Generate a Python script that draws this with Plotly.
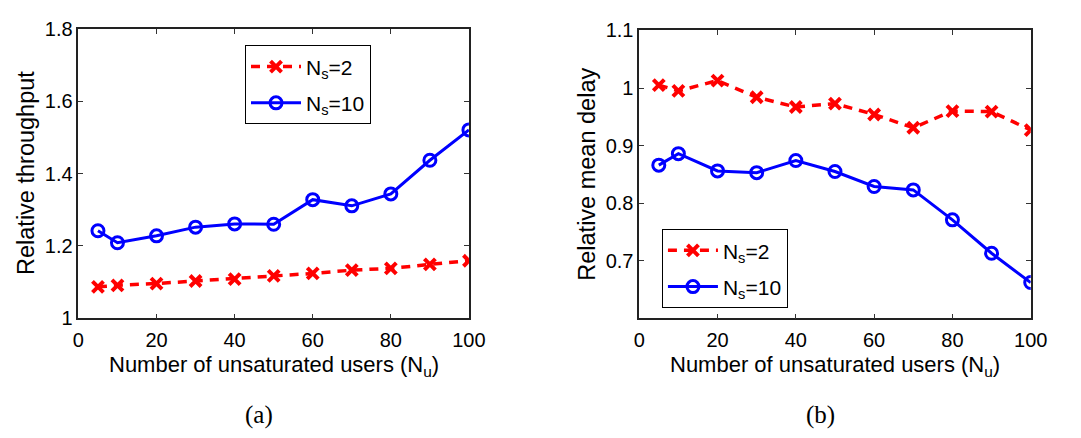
import plotly.graph_objects as go
from plotly.subplots import make_subplots

# Number of unsaturated users
users = [5, 10, 20, 30, 40, 50, 60, 70, 80, 90, 100]

# (a) relative throughput
thr_ns2 = [1.087, 1.091, 1.096, 1.103, 1.108, 1.117, 1.124, 1.133, 1.138, 1.149, 1.159]
thr_ns10 = [1.242, 1.209, 1.228, 1.252, 1.261, 1.260, 1.328, 1.311, 1.344, 1.437, 1.521]

# (b) relative mean delay
dly_ns2 = [1.005, 0.995, 1.013, 0.984, 0.967, 0.973, 0.954, 0.931, 0.960, 0.959, 0.927]
dly_ns10 = [0.866, 0.886, 0.856, 0.853, 0.874, 0.855, 0.829, 0.823, 0.771, 0.713, 0.662]

x_ticks = [0, 20, 40, 60, 80, 100]
thr_ticks = [1, 1.2, 1.4, 1.6, 1.8]
dly_ticks = [0.7, 0.8, 0.9, 1, 1.1]

W, H = 1081, 438
FONT = "Liberation Sans, Arial, Helvetica, sans-serif"
RED = "#ff0000"
BLUE = "#0000ff"

fig = make_subplots(rows=1, cols=2)


def add_pair(y2, y10, col, legend):
    fig.add_trace(go.Scatter(
        x=users, y=y2, mode="lines+markers", name="N<sub>s</sub>=2",
        line=dict(color=RED, width=3.5, dash="9px,7px"),
        marker=dict(symbol="x-thin", size=11, line=dict(color=RED, width=4)),
        legend=legend, legendgroup=legend + "a",
    ), row=1, col=col)
    fig.add_trace(go.Scatter(
        x=users, y=y10, mode="lines+markers", name="N<sub>s</sub>=10",
        line=dict(color=BLUE, width=3),
        marker=dict(symbol="circle-open", size=12, color=BLUE,
                    line=dict(color=BLUE, width=3)),
        legend=legend, legendgroup=legend + "b",
    ), row=1, col=col)


add_pair(thr_ns2, thr_ns10, 1, "legend")
add_pair(dly_ns2, dly_ns10, 2, "legend2")

axis_common = dict(
    showline=True, linecolor="#222222", linewidth=1.5, mirror="ticks",
    ticks="inside", ticklen=5, tickwidth=1, tickcolor="#333333",
    showgrid=False, zeroline=False,
    tickfont=dict(family=FONT, size=20, color="black"),
)


# pixel-based domains
def xdom(l, r):
    return [l / W, r / W]


def ydom(top, bottom):
    return [(H - bottom) / H, (H - top) / H]


fig.update_xaxes(**axis_common, range=[0, 100], tickvals=x_ticks, ticklabelstandoff=3)
fig.update_layout(
    xaxis=dict(domain=xdom(74, 473)),
    xaxis2=dict(domain=xdom(647, 1047)),
    yaxis=dict(**axis_common, domain=ydom(19, 323.5), range=[1, 1.8],
               tickvals=thr_ticks, ticktext=["1", "1.2", "1.4", "1.6", "1.8"]),
    yaxis2=dict(**axis_common, domain=ydom(20.5, 323.5), range=[0.6, 1.1],
                tickvals=dly_ticks, ticktext=["0.7", "0.8", "0.9", "1", "1.1"]),
)

legend_common = dict(
    bgcolor="white", bordercolor="black", borderwidth=1.2,
    font=dict(family=FONT, size=21, color="black"),
    xanchor="left", yanchor="top", itemwidth=50,
    traceorder="grouped", tracegroupgap=6,
)
fig.update_layout(
    legend=dict(**legend_common, x=244 / W, y=1 - 36 / H),
    legend2=dict(**legend_common, x=670 / W, y=1 - 229.5 / H),
)

y_titles = [
    ("Relative throughput", 21, 171),
    ("Relative mean delay", 594, 172),
]
for text, cx, cy in y_titles:
    fig.add_annotation(text=text, x=cx / W, y=1 - cy / H, textangle=-90,
                       xref="paper", yref="paper", showarrow=False,
                       xanchor="center", yanchor="middle",
                       font=dict(family=FONT, size=23.5, color="black"))

for cx in [274, 847]:
    fig.add_annotation(text="Number of unsaturated users (N<sub>u</sub>)",
                       x=cx / W, y=1 - 357 / H, xref="paper", yref="paper",
                       showarrow=False, xanchor="center", yanchor="top",
                       font=dict(family=FONT, size=22, color="black"))

for label, cx in [("(a)", 259), ("(b)", 832)]:
    fig.add_annotation(text=label, x=cx / W, y=1 - 425 / H, xref="paper", yref="paper",
                       showarrow=False, xanchor="center", yanchor="middle",
                       font=dict(family="Liberation Serif, DejaVu Serif, serif",
                                 size=25, color="black"))

fig.update_layout(
    width=W, height=H,
    margin=dict(l=0, r=0, t=0, b=0),
    paper_bgcolor="white", plot_bgcolor="white",
    showlegend=True,
)

fig.write_html("out.html")
